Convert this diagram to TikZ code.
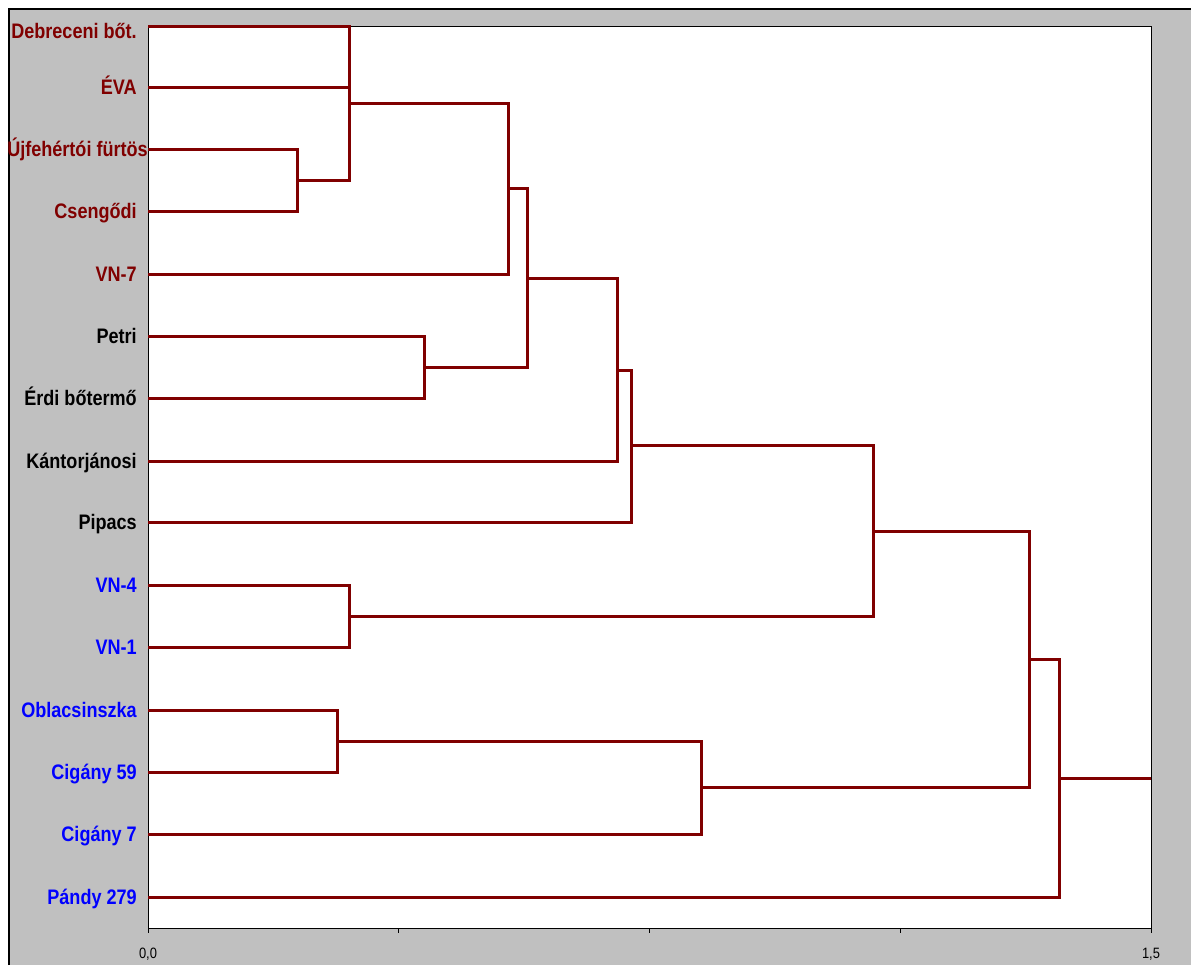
\documentclass[tikz,border=0pt]{standalone}
\usepackage{fontspec}
\setmainfont{Liberation Sans}[FakeStretch=0.86]
\definecolor{branch}{HTML}{800000}
\definecolor{groupred}{HTML}{800000}
\definecolor{groupblue}{HTML}{0000FF}
\definecolor{panel}{HTML}{C0C0C0}

\begin{document}
\begin{tikzpicture}[
  x=0.75pt, y=-0.75pt,
  leaf/.style={anchor=east, inner xsep=8.25pt, inner ysep=0pt,
    text height=11.3pt, text depth=0pt,
    font=\fontsize{15.75}{18}\selectfont\bfseries},
  link/.style={draw=branch, line width=2.25pt},
  ticklabel/.style={font=\fontsize{11.25}{13}\selectfont, inner sep=0pt},
]
\useasboundingbox (0,0) rectangle (1191,965);
% frame and plot area
\fill[panel] (9,9) rectangle (1191,965);
\draw[line width=1.5pt] (9,965) -- (9,9) -- (1191,9);
\draw[fill=white, line width=0.75pt] (148,26) rectangle (1151,928);
\foreach \tx in {148,398.75,649.5,900.25,1151}
  \draw[line width=0.75pt] (\tx,928) -- (\tx,933);
\node[ticklabel] (t0) at (148,954) {0,0};
\node[ticklabel] (t15) at (1151,954) {1,5};

% leaves
\node[leaf,text=groupred,text height=18.8pt] (deb) at (148,26) {Debreceni bőt.};
\node[leaf,text=groupred] (eva) at (148,87) {ÉVA};
\node[leaf,text=groupred,inner xsep=0pt] (ujf) at (148,149) {Újfehértói fürtös};
\node[leaf,text=groupred] (csen) at (148,211) {Csengődi};
\node[leaf,text=groupred] (vn7) at (148,274) {VN-7};
\node[leaf] (petri) at (148,336) {Petri};
\node[leaf] (erdi) at (148,398) {Érdi bőtermő};
\node[leaf] (kant) at (148,461) {Kántorjánosi};
\node[leaf] (pip) at (148,522) {Pipacs};
\node[leaf,text=groupblue] (vn4) at (148,585) {VN-4};
\node[leaf,text=groupblue] (vn1) at (148,647) {VN-1};
\node[leaf,text=groupblue] (obl) at (148,710) {Oblacsinszka};
\node[leaf,text=groupblue] (cig59) at (148,772) {Cigány 59};
\node[leaf,text=groupblue] (cig7) at (148,834) {Cigány 7};
\node[leaf,text=groupblue] (pandy) at (148,897) {Pándy 279};

% merge points
\coordinate (m_uc) at (297,180);
\coordinate (m_top) at (349,103);
\coordinate (m_v7) at (508,188);
\coordinate (m_pe) at (424,367);
\coordinate (m_a) at (527,278);
\coordinate (m_k) at (617,370);
\coordinate (m_p) at (631,445);
\coordinate (m_vn) at (349,616);
\coordinate (m_b) at (873,531);
\coordinate (m_oc) at (337,741);
\coordinate (m_c7) at (701,787);
\coordinate (m_c) at (1029,659);
\coordinate (m_r) at (1059,778);
\coordinate (root) at (1151,778);

% branches
\draw[link] (ujf.east) -| (m_uc) |- (csen.east);
\draw[link] (deb.east) -| (m_top) |- (m_uc);
\draw[link] (eva.east) -- (eva.east -| m_top);
\draw[link] (m_top) -| (m_v7) |- (vn7.east);
\draw[link] (petri.east) -| (m_pe) |- (erdi.east);
\draw[link] (m_v7) -| (m_a) |- (m_pe);
\draw[link] (m_a) -| (m_k) |- (kant.east);
\draw[link] (m_k) -| (m_p) |- (pip.east);
\draw[link] (vn4.east) -| (m_vn) |- (vn1.east);
\draw[link] (m_p) -| (m_b) |- (m_vn);
\draw[link] (obl.east) -| (m_oc) |- (cig59.east);
\draw[link] (m_oc) -| (m_c7) |- (cig7.east);
\draw[link] (m_b) -| (m_c) |- (m_c7);
\draw[link] (m_c) -| (m_r) |- (pandy.east);
\draw[link] (m_r) -- (root);
\end{tikzpicture}
\end{document}
